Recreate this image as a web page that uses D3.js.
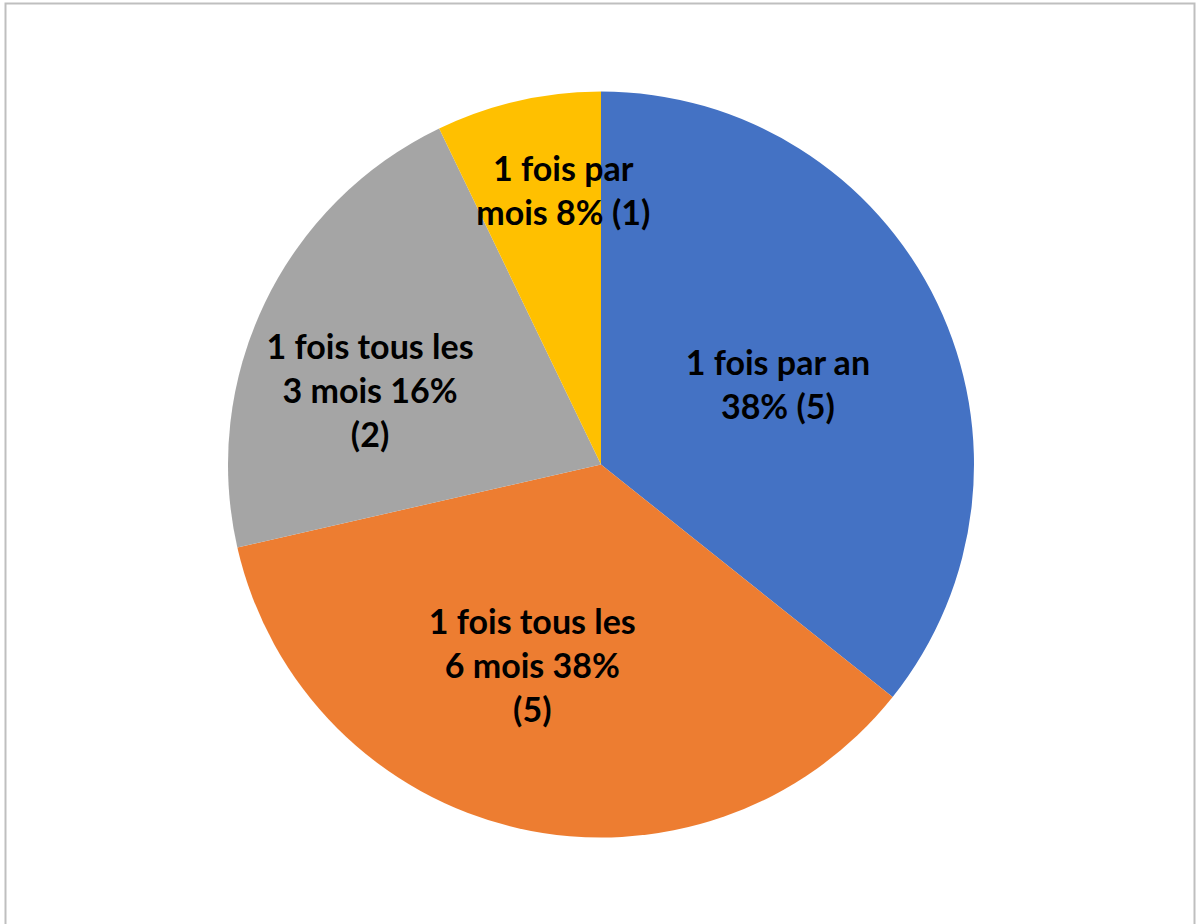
<!DOCTYPE html>
<html>
<head>
<meta charset="utf-8">
<script src="https://cdn.jsdelivr.net/npm/d3@7"></script>
<style>
  html, body { margin: 0; padding: 0; background: #fff; }
  svg { display: block; }
  .label { font-family: Lato, "Open Sans", sans-serif; font-weight: 700; fill: #000; }
</style>
</head>
<body>
<div id="chart"></div>
<script>
// slice values (count of answers) and displayed labels
const categories = ["1 fois par an", "1 fois tous les 6 mois", "1 fois tous les 3 mois", "1 fois par mois"];
const counts = [5, 5, 3, 1];
const labelLines = [
  ["1 fois par an", "38% (5)"],
  ["1 fois tous les", "6 mois 38%", "(5)"],
  ["1 fois tous les", "3 mois 16%", "(2)"],
  ["1 fois par", "mois 8% (1)"]
];
const colors = ["#4472C4", "#ED7D31", "#A5A5A5", "#FFC000"];

const width = 1196, height = 924;
const cx = 601, cy = 464.5, radius = 373;

// where the label block sits: fraction of radius + angle shift (deg) from the slice middle
const labelPlace = [
  {f: 0.52, shift: 1.5},
  {f: 0.57, shift: 6},
  {f: 0.65, shift: -8},
  {f: 0.74, shift: 5}
];

const svg = d3.select('#chart').append('svg')
  .attr('width', width)
  .attr('height', height);

svg.append('rect')
  .attr('x', 5.5).attr('y', 3.5)
  .attr('width', 1189).attr('height', height + 10)
  .attr('fill', 'none')
  .attr('stroke', '#bfbfbf')
  .attr('stroke-width', 2);

const pie = d3.pie().sort(null).value(d => d);
const arcs = pie(counts);

const arc = d3.arc().innerRadius(0).outerRadius(radius);

const g = svg.append('g').attr('transform', 'translate(' + cx + ',' + cy + ')');

g.selectAll('path.slice')
  .data(arcs)
  .enter().append('path')
  .attr('class', 'slice')
  .attr('d', arc)
  .attr('fill', (d, i) => colors[i]);

const fontSize = 34, lineH = 44;

const labels = g.selectAll('text.label')
  .data(arcs)
  .enter().append('text')
  .attr('class', 'label')
  .attr('text-anchor', 'middle')
  .style('font-size', fontSize + 'px')
  .attr('transform', (d, i) => {
    const p = labelPlace[i];
    const a = (d.startAngle + d.endAngle) / 2 + p.shift * Math.PI / 180;
    const r = p.f * radius;
    return 'translate(' + (r * Math.sin(a)) + ',' + (-r * Math.cos(a)) + ')';
  });

labels.each(function(d, i) {
  const lines = labelLines[i];
  const top = -(lines.length - 1) * lineH / 2;
  d3.select(this).selectAll('tspan')
    .data(lines)
    .enter().append('tspan')
    .attr('x', 0)
    .attr('y', (l, j) => top + j * lineH)
    .attr('dy', '0.35em')
    .text(l => l);
});
</script>
</body>
</html>
